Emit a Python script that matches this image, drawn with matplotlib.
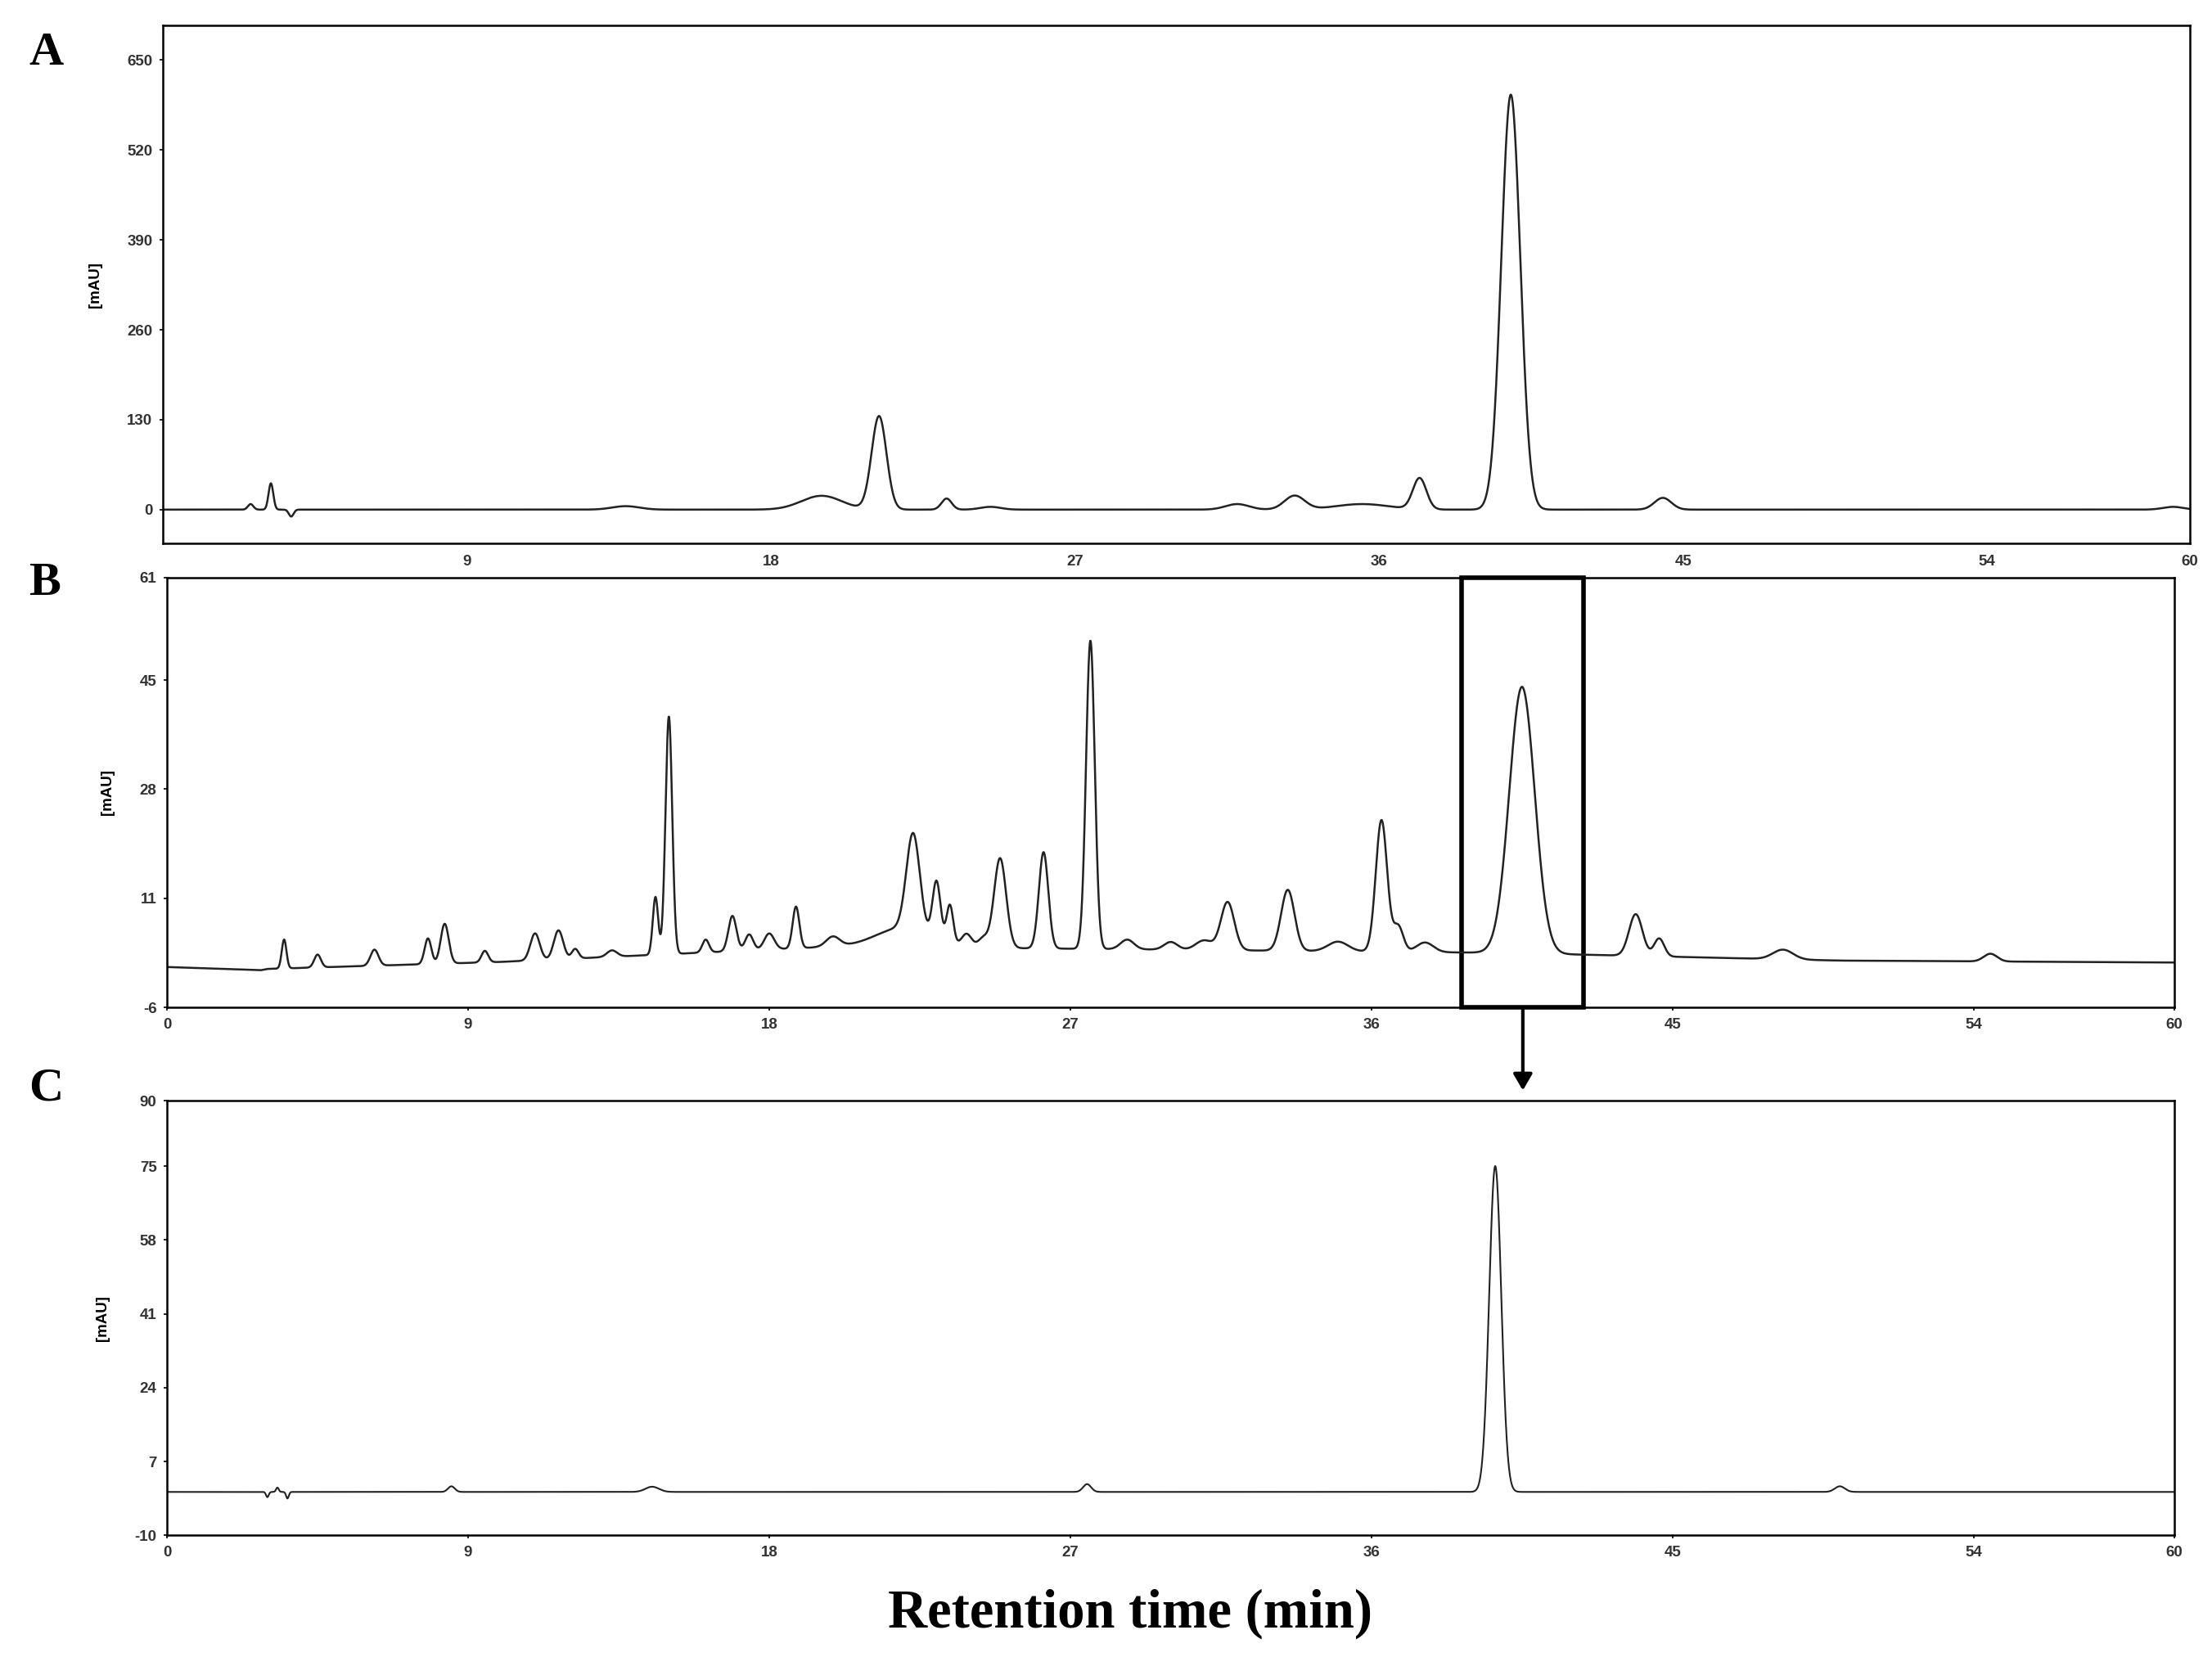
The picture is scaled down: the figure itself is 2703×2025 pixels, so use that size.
import numpy as np
import matplotlib
matplotlib.use("Agg")
import matplotlib.pyplot as plt
from matplotlib.patches import Rectangle, FancyArrowPatch

# Panel A peaks (retention time, height mAU, width min)
a_rt = [2.6, 3.2, 3.8, 13.7, 19.5, 21.2, 23.2, 24.5, 31.8, 33.5, 35.5, 37.2, 39.9, 44.4, 59.5]
a_h  = [8, 38, -10, 5, 20, 135, 16, 4, 8, 20, 8, 45, 600, 17, 4]
a_w  = [0.08, 0.07, 0.07, 0.4, 0.6, 0.22, 0.15, 0.3, 0.35, 0.3, 0.8, 0.2, 0.28, 0.25, 0.3]

# Panel B peaks (heights above baseline)
b_rt = [3.5, 4.5, 6.2, 7.8, 8.3, 9.5, 11.0, 11.7, 12.2, 13.3, 14.6, 15.0, 16.1, 16.9, 17.4, 18.0,
        18.8, 19.9, 22.0, 22.3, 23.0, 23.4, 23.9, 24.4, 24.9, 26.2, 27.6, 28.7, 30.0, 31.0, 31.7,
        33.5, 35.0, 36.3, 36.8, 37.6, 40.5, 43.9, 44.6, 48.3, 54.5]
b_h  = [4.5, 2, 2.5, 4, 6.2, 1.8, 4.2, 4.5, 1.5, 1, 9, 37, 2, 5.5, 2.5, 2.5,
        6.5, 1.5, 3, 15, 9, 6, 2, 1.5, 14, 15, 48, 1.5, 1.2, 1.5, 7.5,
        9.5, 1.5, 20.5, 4, 1.5, 41.5, 6.5, 2.8, 1.5, 1.2]
b_w  = [0.07, 0.1, 0.12, 0.1, 0.12, 0.1, 0.14, 0.14, 0.1, 0.15, 0.08, 0.1, 0.1, 0.12, 0.12, 0.15,
        0.1, 0.2, 0.8, 0.2, 0.12, 0.1, 0.15, 0.15, 0.18, 0.14, 0.13, 0.2, 0.2, 0.25, 0.2,
        0.2, 0.3, 0.17, 0.15, 0.25, 0.38, 0.2, 0.15, 0.3, 0.2]
b_base_t = [0, 2.8, 3.0, 10, 20, 30, 40, 50, 60]
b_base_v = [0.3, -0.2, 0.0, 1.1, 3.5, 3.0, 2.5, 1.3, 1.0]

# Panel C peaks
c_rt = [3.0, 3.3, 3.6, 8.5, 14.5, 27.5, 39.7, 50.0]
c_h  = [-1.2, 1.0, -1.5, 1.3, 1.2, 1.8, 75.0, 1.3]
c_w  = [0.04, 0.04, 0.04, 0.1, 0.2, 0.12, 0.18, 0.15]
c_base = 0.0

# Highlight box in B (minutes)
box_x0, box_x1 = 38.7, 42.35

t = np.linspace(0, 60, 12000)

def trace(rts, hs, ws):
    y = np.zeros_like(t)
    for r, h, w in zip(rts, hs, ws):
        y += h * np.exp(-0.5 * ((t - r) / w) ** 2)
    return y

ya = trace(a_rt, a_h, a_w)
yb = trace(b_rt, b_h, b_w) + np.interp(t, b_base_t, b_base_v)
yc = trace(c_rt, c_h, c_w) + c_base

fig = plt.figure(figsize=(27.03, 20.25), dpi=100)
tickfont = dict(family="Liberation Sans", weight="bold", size=13.5)

def setup(ax, ylim, yticks, xticks, xlabels):
    ax.set_xlim(0, 60)
    ax.set_ylim(*ylim)
    ax.set_yticks(yticks)
    ax.set_yticklabels([str(v) for v in yticks], **tickfont, color="#333333")
    ax.set_xticks(xticks)
    ax.set_xticklabels(xlabels, **tickfont, color="#333333")
    ax.tick_params(length=3, width=1.2, pad=6)
    for s in ax.spines.values():
        s.set_linewidth(1.8)
    ax.set_ylabel("[mAU]", fontdict=tickfont, labelpad=22)

axA = fig.add_axes([0.0736, 0.672, 0.9164, 0.3126])
axA.plot(t, ya, color="#222222", lw=1.8)
setup(axA, (-49, 700), [0, 130, 260, 390, 520, 650], [9, 18, 27, 36, 45, 54, 60],
      ["9", "18", "27", "36", "45", "54", "60"])
axA.tick_params(axis="x", length=0, pad=10)

axB = fig.add_axes([0.0755, 0.392, 0.9075, 0.2596])
axB.plot(t, yb, color="#222222", lw=1.8)
setup(axB, (-6, 61), [-6, 11, 28, 45, 61], [0, 9, 18, 27, 36, 45, 54, 60],
      ["0", "9", "18", "27", "36", "45", "54", "60"])
axB.add_patch(Rectangle((box_x0, -6), box_x1 - box_x0, 67, fill=False, lw=4, color="black", clip_on=False))

axC = fig.add_axes([0.0755, 0.0734, 0.9075, 0.2622])
axC.plot(t, yc, color="#222222", lw=1.5)
setup(axC, (-10, 90), [-10, 7, 24, 41, 58, 75, 90], [0, 9, 18, 27, 36, 45, 54, 60],
      ["0", "9", "18", "27", "36", "45", "54", "60"])

# arrow from box to panel C
xm = (box_x0 + box_x1) / 2
p0 = fig.transFigure.inverted().transform(axB.transData.transform((xm, -6)))
p1 = fig.transFigure.inverted().transform(axC.transData.transform((xm, 90)))
fig.patches.append(FancyArrowPatch((p0[0], p0[1]), (p1[0], p1[1] + 0.005), transform=fig.transFigure,
                                   arrowstyle="-|>,head_length=12,head_width=7", lw=3, color="black"))

letter = dict(family="Liberation Serif", weight="bold", size=42)
fig.text(0.013, 0.968, "A", **letter, va="center")
fig.text(0.013, 0.648, "B", **letter, va="center")
fig.text(0.013, 0.343, "C", **letter, va="center")
fig.text(0.511, 0.026, "Retention time (min)", family="Liberation Serif", weight="bold",
         size=48, ha="center", va="center")

fig.savefig("out.png", dpi=100)
